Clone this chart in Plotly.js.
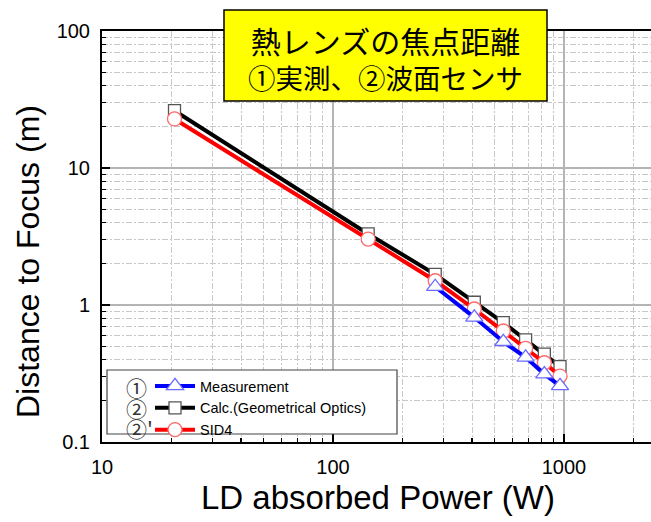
<!DOCTYPE html>
<html>
<head>
<meta charset="utf-8">
<script src="https://cdn.plot.ly/plotly-3.0.1.min.js"></script>
<style>
  html, body { margin: 0; padding: 0; background: #fff; overflow: hidden; }
  #chart { width: 651px; height: 522px; }
</style>
</head>
<body>
<div id="chart"></div>
<script>
// Absorbed LD power (W) and distance to focus (m)
const power = [20.6, 142, 277, 409, 546, 682, 822, 961];
const measPower = [277, 409, 546, 682, 822, 961];
const measDist = [1.36, 0.813, 0.539, 0.415, 0.313, 0.257];
const calcDist = [26.2, 3.30, 1.675, 1.047, 0.743, 0.556, 0.438, 0.355];
const sid4Dist = [22.8, 3.03, 1.503, 0.935, 0.646, 0.483, 0.379, 0.303];

const seriesNames = ['Measurement', 'Calc.(Geometrical Optics)', 'SID4'];
const seriesTags = ['①', '②', "②'"];

const xTickVals = [10, 100, 1000];
const xTickText = ['10', '100', '1000'];
const yTickVals = [0.1, 1, 10, 100];
const yTickText = ['0.1', '1', '10', '100'];

const xTitle = 'LD absorbed Power (W)';
const yTitle = 'Distance to Focus (m)';
const titleLines = ['熱レンズの焦点距離', '①実測、②波面センサ'];

// minor ticks at 2..9 of every decade
function minorVals(decades) {
  const v = [];
  decades.forEach(d => { for (let k = 2; k <= 9; k++) v.push(k * d); });
  return v;
}

// page geometry
const W = 651, H = 522;
const M = { l: 102, r: 0, t: 31, b: 80 };
const plotW = W - M.l - M.r, plotH = H - M.t - M.b;
const fx = px => (px - M.l) / plotW;
const fy = py => (H - M.b - py) / plotH;

const xLogMax = 1 + plotW / 231;

const traces = [
  {
    x: power, y: calcDist, name: seriesNames[1], legendrank: 2,
    type: 'scatter', mode: 'lines+markers',
    line: { color: '#000000', width: 4 },
    marker: { symbol: 'square', size: 12, color: '#ffffff', line: { color: '#555555', width: 1.3 } }
  },
  {
    x: power, y: sid4Dist, name: seriesNames[2], legendrank: 3,
    type: 'scatter', mode: 'lines+markers',
    line: { color: '#ff0000', width: 4 },
    marker: { symbol: 'circle', size: 14, color: '#ffffff', line: { color: '#ff6a6a', width: 1.3 } }
  },
  {
    x: measPower, y: measDist, name: seriesNames[0], legendrank: 1,
    type: 'scatter', mode: 'lines+markers',
    line: { color: '#0000ff', width: 4 },
    marker: { symbol: 'triangle-up', size: 15, color: '#ffffff', line: { color: '#6a6aff', width: 1.3 } }
  }
];

const minorGrid = { ticks: 'inside', ticklen: 4, tickwidth: 1.3, tickcolor: '#000',
  showgrid: true, gridcolor: '#c8c8c8', gridwidth: 1, griddash: '6px,2px,2px,2px' };

// legend frame and title box
const legBox = { x0: 107, x1: 397, y0: 370, y1: 434 };
const shapes = [
  { type: 'rect', xref: 'paper', yref: 'paper', layer: 'above',
    x0: fx(legBox.x0), x1: fx(legBox.x1), y0: fy(legBox.y1), y1: fy(legBox.y0),
    fillcolor: '#ffffff', line: { color: '#444444', width: 1.2 } },
  { type: 'rect', xref: 'paper', yref: 'paper', layer: 'above',
    x0: fx(224), x1: fx(547), y0: fy(101), y1: fy(10),
    fillcolor: '#ffff00', line: { color: '#000000', width: 1.5 } }
];

const annotations = [
  // circled series tags, one per legend row
  { text: seriesTags.map(t => '<span style="font-size:21px">' + t + '</span>').join('<br>'),
    xref: 'paper', yref: 'paper', x: fx(125), y: fy(407),
    xanchor: 'left', yanchor: 'middle', align: 'left', showarrow: false, borderpad: 0,
    font: { family: 'Noto Sans CJK JP', size: 15.8, color: '#333' } },
  // two-line heading inside the yellow box
  { text: '<span style="font-size:30px">' + titleLines[0] + '</span><br>' + titleLines[1],
    xref: 'paper', yref: 'paper', x: fx(385), y: fy(57.5),
    xanchor: 'center', yanchor: 'middle', align: 'center', showarrow: false,
    font: { family: 'Noto Sans CJK JP', size: 27.5, color: '#000' } },
  // axis titles
  { text: xTitle, xref: 'paper', yref: 'paper', x: fx(378), y: fy(497),
    xanchor: 'center', yanchor: 'middle', showarrow: false,
    font: { family: 'Liberation Sans, Arial, sans-serif', size: 33, color: '#000' } },
  { text: yTitle, xref: 'paper', yref: 'paper', x: fx(28), y: fy(262), textangle: -90,
    xanchor: 'center', yanchor: 'middle', showarrow: false,
    font: { family: 'Liberation Sans, Arial, sans-serif', size: 32, color: '#000' } }
];

const layout = {
  width: W, height: H,
  margin: M,
  paper_bgcolor: '#ffffff', plot_bgcolor: '#ffffff',
  font: { family: 'Liberation Sans, Arial, sans-serif', color: '#000' },
  showlegend: true,
  legend: {
    x: fx(150), y: fy(370), xanchor: 'left', yanchor: 'top',
    bgcolor: 'rgba(0,0,0,0)', borderwidth: 0,
    font: { size: 14.5, color: '#000' }, tracegroupgap: 0, itemwidth: 40
  },
  xaxis: {
    type: 'log', range: [1, xLogMax],
    tickmode: 'array', tickvals: xTickVals, ticktext: xTickText,
    ticks: 'inside', ticklen: 8, tickwidth: 1.5, tickcolor: '#000',
    showline: true, linecolor: '#000', linewidth: 2, mirror: true,
    showgrid: true, gridcolor: '#b4b4b4', gridwidth: 1.5,
    tickfont: { size: 20 }, ticklabelstandoff: 6,
    minor: Object.assign({ tickmode: 'array', tickvals: minorVals([10, 100, 1000]) }, minorGrid),
    zeroline: false
  },
  yaxis: {
    type: 'log', range: [-1, 2],
    tickmode: 'array', tickvals: yTickVals, ticktext: yTickText,
    ticks: 'inside', ticklen: 8, tickwidth: 1.5, tickcolor: '#000',
    showline: true, linecolor: '#000', linewidth: 2, mirror: false,
    showgrid: true, gridcolor: '#b4b4b4', gridwidth: 1.5,
    tickfont: { size: 20 }, ticklabelstandoff: 6,
    minor: Object.assign({ tickmode: 'array', tickvals: minorVals([0.1, 1, 10]) }, minorGrid),
    zeroline: false
  },
  shapes: shapes,
  annotations: annotations
};

Plotly.newPlot('chart', traces, layout, { displayModeBar: false, staticPlot: true });
</script>
</body>
</html>
